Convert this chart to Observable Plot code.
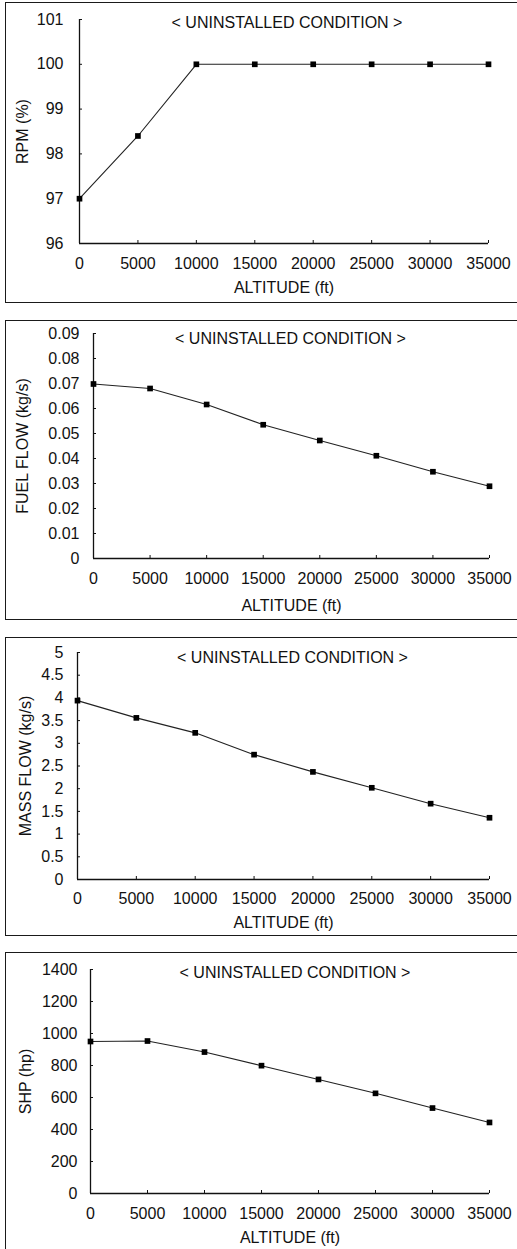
<!DOCTYPE html>
<html>
<head>
<meta charset="utf-8">
<script src="https://cdn.jsdelivr.net/npm/d3@7"></script>
<script src="https://cdn.jsdelivr.net/npm/@observablehq/plot@0.6"></script>
<style>
  html, body { margin: 0; padding: 0; background: #fff; }
  body { width: 517px; height: 1249px; position: relative; overflow: hidden; }
  .panel { position: absolute; left: 0; }
  .border { position: absolute; left: 5px; width: 530px; border: 1.5px solid #1a1a1a; box-sizing: border-box; }
</style>
</head>
<body>
<script>
// ---- data ----
const altitude = [0, 5000, 10000, 15000, 20000, 25000, 30000, 35000];
const rpm = [97, 98.4, 100, 100, 100, 100, 100, 100];
const fuelFlow = [0.0698, 0.068, 0.0616, 0.0535, 0.0472, 0.0411, 0.0347, 0.0289];
const massFlow = [3.94, 3.56, 3.23, 2.75, 2.37, 2.02, 1.67, 1.36];
const shp = [950, 953, 884, 799, 713, 626, 534, 444];

const altTicks = [0, 5000, 10000, 15000, 20000, 25000, 30000, 35000];
const rpmTicks = [96, 97, 98, 99, 100, 101];
const fuelTicks = [0, 0.01, 0.02, 0.03, 0.04, 0.05, 0.06, 0.07, 0.08, 0.09];
const fuelTickLabels = ["0", "0.01", "0.02", "0.03", "0.04", "0.05", "0.06", "0.07", "0.08", "0.09"];
const massTicks = [0, 0.5, 1, 1.5, 2, 2.5, 3, 3.5, 4, 4.5, 5];
const massTickLabels = ["0", "0.5", "1", "1.5", "2", "2.5", "3", "3.5", "4", "4.5", "5"];
const shpTicks = [0, 200, 400, 600, 800, 1000, 1200, 1400];

const titleText = "< UNINSTALLED CONDITION >";
const xLabel = "ALTITUDE (ft)";

const FONT = "'Liberation Sans', Arial, Helvetica, sans-serif";

const panels = [
  {top: 0, height: 305, border: [2, 303], mt: 19, mb: 62, ml: 79, mr: 29,
   values: rpm, domain: [96, 101], ticks: rpmTicks, labels: null, ylabel: "RPM (%)",
   ypad: 16, ylabDx: -57, titleDx: 3, titleDy: 3, xtickPad: 14, xlabDy: 44},
  {top: 318, height: 302, border: [320, 620], mt: 15, mb: 62, ml: 93, mr: 28,
   values: fuelFlow, domain: [0, 0.09], ticks: fuelTicks, labels: fuelTickLabels, ylabel: "FUEL FLOW (kg/s)",
   ypad: 14, ylabDx: -71, titleDx: -1, titleDy: 5, xtickPad: 14, xlabDy: 47},
  {top: 635, height: 302, border: [637, 936], mt: 17, mb: 58, ml: 77, mr: 28,
   values: massFlow, domain: [0, 5], ticks: massTicks, labels: massTickLabels, ylabel: "MASS FLOW (kg/s)",
   ypad: 14, ylabDx: -52, titleDx: 9, titleDy: 5, xtickPad: 13, xlabDy: 43},
  {top: 950, height: 299, border: [952, 1260], mt: 19, mb: 56, ml: 90, mr: 28,
   values: shp, domain: [0, 1400], ticks: shpTicks, labels: null, ylabel: "SHP (hp)",
   ypad: 13, ylabDx: -65, titleDx: 5, titleDy: 3, xtickPad: 14, xlabDy: 44}
];

for (const p of panels) {
  const b = document.createElement("div");
  b.className = "border";
  b.style.top = p.border[0] + "px";
  b.style.height = (p.border[1] - p.border[0]) + "px";
  document.body.appendChild(b);

  const data = altitude.map((a, i) => ({alt: a, v: p.values[i]}));
  const plotW = 517 - p.ml - p.mr;
  const plotH = p.height - p.mt - p.mb;
  const fmt = p.labels ? (d => p.labels[p.ticks.indexOf(d)]) : (d => String(d));

  const chart = Plot.plot({
    width: 517,
    height: p.height,
    marginTop: p.mt,
    marginBottom: p.mb,
    marginLeft: p.ml,
    marginRight: p.mr,
    x: {domain: [altTicks[0], altTicks[altTicks.length - 1]]},
    y: {domain: p.domain},
    style: {fontFamily: FONT, fontSize: "16px", color: "#111", background: "transparent", overflow: "visible"},
    marks: [
      // axis lines
      Plot.ruleY([p.domain[0]], {stroke: "#111", strokeWidth: 1.3}),
      Plot.ruleX([altTicks[0]], {stroke: "#111", strokeWidth: 1.3}),
      // inward tick marks
      Plot.tickX(altTicks, {x: d => d, insetTop: plotH - 3, stroke: "#111"}),
      Plot.tickY(p.ticks, {y: d => d, insetRight: plotW - 3, stroke: "#111"}),
      // tick labels
      Plot.axisX({ticks: altTicks, tickSize: 0, tickPadding: p.xtickPad, tickFormat: d => String(d), label: null, fontSize: 16, fill: "#111"}),
      Plot.axisY({ticks: p.ticks, tickSize: 0, tickPadding: p.ypad, tickFormat: fmt, label: null, fontSize: 16, fill: "#111"}),
      // series
      Plot.line(data, {x: "alt", y: "v", stroke: "#222", strokeWidth: 1.1}),
      Plot.dot(data, {x: "alt", y: "v", symbol: "square", r: 3.2, fill: "#000", stroke: "none"}),
      // title
      Plot.text([titleText], {frameAnchor: "top", text: d => d, dx: p.titleDx, dy: p.titleDy, lineAnchor: "middle", fontSize: 16, fill: "#111"}),
      // x label
      Plot.text([xLabel], {frameAnchor: "bottom", text: d => d, dy: p.xlabDy, lineAnchor: "middle", fontSize: 16, fill: "#111"}),
      // y label
      Plot.text([p.ylabel], {frameAnchor: "left", text: d => d, dx: p.ylabDx, rotate: -90, lineAnchor: "middle", textAnchor: "middle", fontSize: 16, fill: "#111"})
    ]
  });
  const wrap = document.createElement("div");
  wrap.className = "panel";
  wrap.style.top = p.top + "px";
  wrap.appendChild(chart);
  document.body.appendChild(wrap);
}
</script>
</body>
</html>
